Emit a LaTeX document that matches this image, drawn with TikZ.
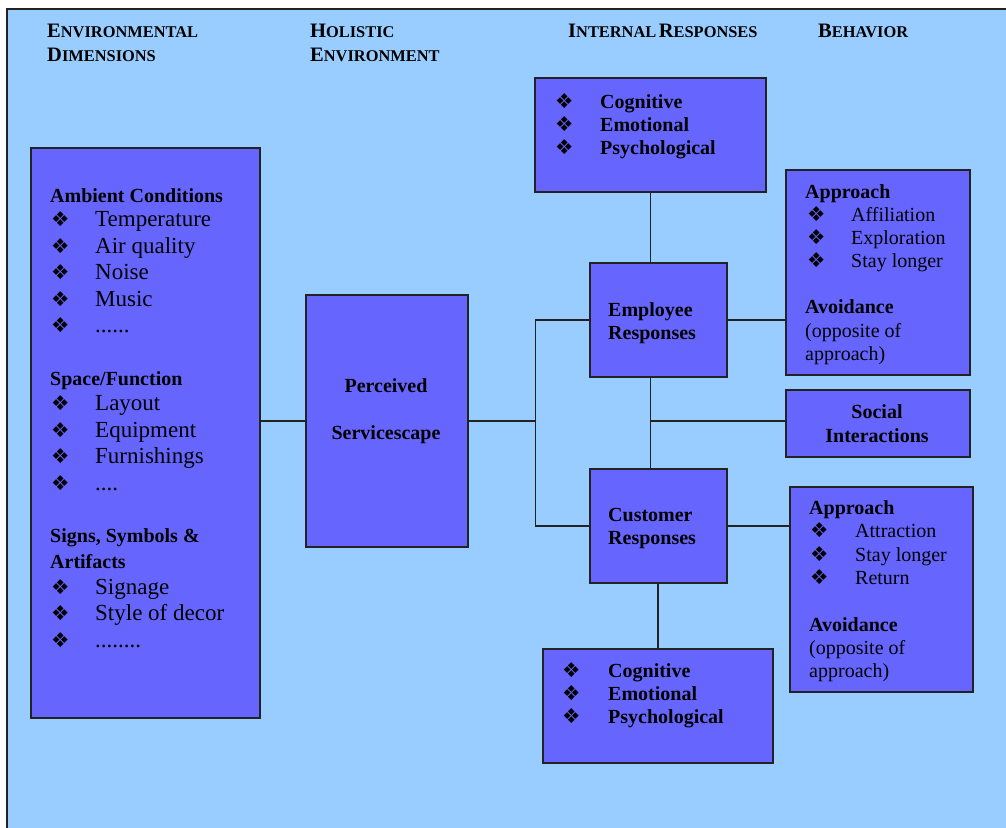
\documentclass[tikz,border=0pt]{standalone}
\usepackage{fontspec}
\setmainfont{Liberation Serif}
\newfontfamily\dejavu{DejaVu Sans}
\definecolor{bgblue}{HTML}{99CCFF}
\definecolor{boxblue}{HTML}{6666FF}
\definecolor{linec}{HTML}{222222}
\newcommand{\fsc}[2]{{\fontsize{20.5}{24}\selectfont\bfseries #1\fontsize{16.4}{24}\selectfont #2}}
\tikzset{
  box/.style={draw=linec, line width=1.6pt, fill=boxblue, anchor=north west, inner sep=0pt},
  txt/.style={anchor=base west, inner sep=0pt, text=black},
  hd/.style={txt, font=\fontsize{20}{24}\selectfont\bfseries},
  hdc/.style={hd, anchor=base},
  itl/.style={txt, font=\fontsize{23}{27}\selectfont},
  its/.style={txt, font=\fontsize{20}{24}\selectfont},
  bul/.style={txt, font=\dejavu\fontsize{20.5}{20}\selectfont},
  conn/.style={draw=linec, line width=1.4pt},
}
\begin{document}
\begin{tikzpicture}[x=1pt,y=-1pt]
\useasboundingbox (0,0) rectangle (1006,827);
\clip (0,0) rectangle (1006,827);
\fill[white] (0,0) rectangle (1006,827);
\draw[linec, line width=2pt, fill=bgblue] (7,9) rectangle (1030,850);

% headers
\node[txt] (h1a) at (47,37) {\fsc{E}{NVIRONMENTAL}};
\node[txt] (h1b) at (47,61) {\fsc{D}{IMENSIONS}};
\node[txt] (h2a) at (310,37) {\fsc{H}{OLISTIC}};
\node[txt] (h2b) at (310,61) {\fsc{E}{NVIRONMENT}};
\node[txt] (h3) at (568,37) {\fsc{I}{NTERNAL} \fsc{R}{ESPONSES}};
\node[txt] (h4) at (818,37) {\fsc{B}{EHAVIOR}};

% boxes
\node[box, minimum width=229pt, minimum height=570pt] (env) at (30,147) {};
\node[box, minimum width=162pt, minimum height=252pt] (ps) at (305,294) {};
\node[box, minimum width=231pt, minimum height=114pt] (cog1) at (534,77) {};
\node[box, minimum width=137pt, minimum height=114pt] (emp) at (589,262) {};
\node[box, minimum width=184pt, minimum height=205pt] (beh1) at (785,169) {};
\node[box, minimum width=184pt, minimum height=67pt] (soc) at (785,389) {};
\node[box, minimum width=137pt, minimum height=114pt] (cust) at (589,468) {};
\node[box, minimum width=183pt, minimum height=205pt] (beh2) at (789,486) {};
\node[box, minimum width=230pt, minimum height=114pt] (cog2) at (542,648) {};

% connectors
\coordinate (bx) at ([xshift=67pt]ps.east);
\draw[conn] (ps.west) -- (ps.west -| env.east);
\draw[conn] (ps.east) -- (bx);
\draw[conn] (emp.west) -| (bx) |- (cust.west);
\draw[conn] (cog1.south) -- (cog1.south |- emp.north);
\draw[conn] (cog1.south |- emp.south) -- (cog1.south |- cust.north);
\coordinate (sj) at (cog1.south |- bx);
\draw[conn] (sj) -- (sj -| soc.west);
\draw[conn] (emp.east) -- (emp.east -| beh1.west);
\draw[conn] (cust.east) -- (cust.east -| beh2.west);
\draw[conn] (cog2.north) -- (cog2.north |- cust.south);

% left box text
\node[hd] (t1) at (50,202) {Ambient Conditions};
\node[bul] (b1) at (51,226) {❖}; \node[itl] (t2) at (95,226) {Temperature};
\node[bul] (b2) at (51,253) {❖}; \node[itl] (t3) at (95,253) {Air quality};
\node[bul] (b3) at (51,279) {❖}; \node[itl] (t4) at (95,279) {Noise};
\node[bul] (b4) at (51,306) {❖}; \node[itl] (t5) at (95,306) {Music};
\node[bul] (b5) at (51,332) {❖}; \node[itl] (t6) at (95,332) {......};
\node[hd] (t7) at (50,385) {Space/Function};
\node[bul] (b6) at (51,410) {❖}; \node[itl] (t8) at (95,410) {Layout};
\node[bul] (b7) at (51,437) {❖}; \node[itl] (t9) at (95,437) {Equipment};
\node[bul] (b8) at (51,463) {❖}; \node[itl] (t10) at (95,463) {Furnishings};
\node[bul] (b9) at (51,490) {❖}; \node[itl] (t11) at (95,490) {....};
\node[hd] (t12) at (50,542) {Signs, Symbols \&};
\node[hd] (t13) at (50,568) {Artifacts};
\node[bul] (b10) at (51,594) {❖}; \node[itl] (t14) at (95,594) {Signage};
\node[bul] (b11) at (51,620) {❖}; \node[itl] (t15) at (95,620) {Style of decor};
\node[bul] (b12) at (51,647) {❖}; \node[itl] (t16) at (95,647) {........};

% perceived servicescape
\node[hdc] (p1) at (386,392) {Perceived};
\node[hdc] (p2) at (386,439) {Servicescape};

% top cognitive
\node[bul] (c1b) at (555,108) {❖}; \node[hd] (c1t) at (600,108) {Cognitive};
\node[bul] (c2b) at (555,131) {❖}; \node[hd] (c2t) at (600,131) {Emotional};
\node[bul] (c3b) at (555,154) {❖}; \node[hd] (c3t) at (600,154) {Psychological};

% employee responses
\node[hd] (e1) at (608,316) {Employee};
\node[hd] (e2) at (608,339) {Responses};

% employee behaviour
\node[hd] (a1) at (805,198) {Approach};
\node[bul] (a2b) at (807,221) {❖}; \node[its] (a2) at (851,221) {Affiliation};
\node[bul] (a3b) at (807,244) {❖}; \node[its] (a3) at (851,244) {Exploration};
\node[bul] (a4b) at (807,267) {❖}; \node[its] (a4) at (851,267) {Stay longer};
\node[hd] (a5) at (805,313) {Avoidance};
\node[its] (a6) at (805,337) {(opposite of};
\node[its] (a7) at (805,360) {approach)};

% social
\node[hdc] (s1) at (877,418) {Social};
\node[hdc] (s2) at (877,442) {Interactions};

% customer responses
\node[hd] (r1) at (608,521) {Customer};
\node[hd] (r2) at (608,544) {Responses};

% customer behaviour
\node[hd] (d1) at (809,514) {Approach};
\node[bul] (d2b) at (810,537) {❖}; \node[its] (d2) at (855,537) {Attraction};
\node[bul] (d3b) at (810,561) {❖}; \node[its] (d3) at (855,561) {Stay longer};
\node[bul] (d4b) at (810,584) {❖}; \node[its] (d4) at (855,584) {Return};
\node[hd] (d5) at (809,631) {Avoidance};
\node[its] (d6) at (809,654) {(opposite of};
\node[its] (d7) at (809,677) {approach)};

% bottom cognitive
\node[bul] (g1b) at (562,677) {❖}; \node[hd] (g1t) at (608,677) {Cognitive};
\node[bul] (g2b) at (562,700) {❖}; \node[hd] (g2t) at (608,700) {Emotional};
\node[bul] (g3b) at (562,723) {❖}; \node[hd] (g3t) at (608,723) {Psychological};
\end{tikzpicture}
\end{document}
